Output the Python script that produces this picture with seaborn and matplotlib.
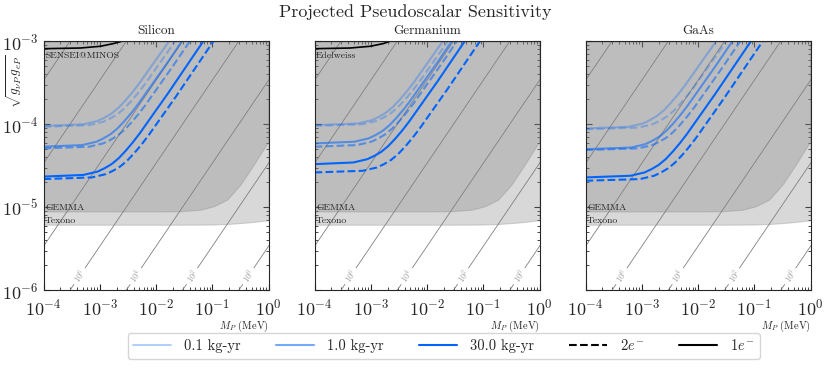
import numpy as np
import matplotlib
matplotlib.use("Agg")
import matplotlib.pyplot as plt
from matplotlib.lines import Line2D
import seaborn as sns

panels = ["Silicon", "Germanium", "GaAs"]
exposures = ["0.1 kg-yr", "1.0 kg-yr", "30.0 kg-yr"]
exposure_alpha = [0.3, 0.55, 1.0]
blue = "#0165fc"

# curves, as log10(M_P / MeV) and log10(coupling), one row per exposure
si_1e_logm = [[-4, -3.29, -3.04, -2.915, -2.79, -2.665, -2.54, -2.415, -2.29, -2.04, -1.79, -0.79],
              [-4, -3.31, -3.06, -2.935, -2.81, -2.685, -2.56, -2.435, -2.31, -2.06, -1.81, -0.81],
              [-4, -3.29, -3.04, -2.915, -2.79, -2.665, -2.54, -2.415, -2.29, -2.04, -1.79, -0.79]]
si_1e_logg = [[-4.02, -4.00, -3.96, -3.92, -3.87, -3.80, -3.71, -3.61, -3.50, -3.26, -3.02, -2.02],
              [-4.27, -4.25, -4.21, -4.17, -4.12, -4.05, -3.96, -3.86, -3.75, -3.51, -3.27, -2.27],
              [-4.63, -4.61, -4.57, -4.53, -4.48, -4.41, -4.32, -4.22, -4.11, -3.87, -3.63, -2.63]]
si_2e_logm = [[-4, -3.19, -2.94, -2.815, -2.69, -2.565, -2.44, -2.315, -2.19, -1.94, -1.69, -0.69],
              [-4, -3.19, -2.94, -2.815, -2.69, -2.565, -2.44, -2.315, -2.19, -1.94, -1.69, -0.69],
              [-4, -3.14, -2.89, -2.765, -2.64, -2.515, -2.39, -2.265, -2.14, -1.89, -1.64, -0.64]]
si_2e_logg = [[-4.03, -4.01, -3.97, -3.93, -3.88, -3.81, -3.72, -3.62, -3.51, -3.27, -3.03, -2.03],
              [-4.29, -4.27, -4.23, -4.19, -4.14, -4.07, -3.98, -3.88, -3.77, -3.53, -3.29, -2.29],
              [-4.66, -4.64, -4.60, -4.56, -4.51, -4.44, -4.35, -4.25, -4.14, -3.90, -3.66, -2.66]]

ge_1e_logm = [[-4, -3.23, -2.98, -2.855, -2.73, -2.605, -2.48, -2.355, -2.23, -1.98, -1.73, -0.73],
              [-4, -3.29, -3.04, -2.915, -2.79, -2.665, -2.54, -2.415, -2.29, -2.04, -1.79, -0.79],
              [-4, -3.31, -3.06, -2.935, -2.81, -2.685, -2.56, -2.435, -2.31, -2.06, -1.81, -0.81]]
ge_1e_logg = [[-4.01, -3.99, -3.95, -3.91, -3.86, -3.79, -3.70, -3.60, -3.49, -3.25, -3.01, -2.01],
              [-4.23, -4.21, -4.17, -4.13, -4.08, -4.01, -3.92, -3.82, -3.71, -3.47, -3.23, -2.23],
              [-4.48, -4.46, -4.42, -4.38, -4.33, -4.26, -4.17, -4.07, -3.96, -3.72, -3.48, -2.48]]
ge_2e_logm = [[-4, -3.15, -2.90, -2.775, -2.65, -2.525, -2.40, -2.275, -2.15, -1.90, -1.65, -0.65],
              [-4, -3.24, -2.99, -2.865, -2.74, -2.615, -2.49, -2.365, -2.24, -1.99, -1.74, -0.74],
              [-4, -3.14, -2.89, -2.765, -2.64, -2.515, -2.39, -2.265, -2.14, -1.89, -1.64, -0.64]]
ge_2e_logg = [[-4.02, -4.00, -3.96, -3.92, -3.87, -3.80, -3.71, -3.61, -3.50, -3.26, -3.02, -2.02],
              [-4.27, -4.25, -4.21, -4.17, -4.12, -4.05, -3.96, -3.86, -3.75, -3.51, -3.27, -2.27],
              [-4.58, -4.56, -4.52, -4.48, -4.43, -4.36, -4.27, -4.17, -4.06, -3.82, -3.58, -2.58]]

gaas_1e_logm = [[-4, -3.23, -2.98, -2.855, -2.73, -2.605, -2.48, -2.355, -2.23, -1.98, -1.73, -0.73],
                [-4, -3.19, -2.94, -2.815, -2.69, -2.565, -2.44, -2.315, -2.19, -1.94, -1.69, -0.69],
                [-4, -3.20, -2.95, -2.825, -2.70, -2.575, -2.45, -2.325, -2.20, -1.95, -1.70, -0.70]]
gaas_1e_logg = [[-4.05, -4.03, -3.99, -3.95, -3.90, -3.83, -3.74, -3.64, -3.53, -3.29, -3.05, -2.05],
                [-4.30, -4.28, -4.24, -4.20, -4.15, -4.08, -3.99, -3.89, -3.78, -3.54, -3.30, -2.30],
                [-4.64, -4.62, -4.58, -4.54, -4.49, -4.42, -4.33, -4.23, -4.12, -3.88, -3.64, -2.64]]
gaas_2e_logm = [[-4, -3.06, -2.81, -2.685, -2.56, -2.435, -2.31, -2.185, -2.06, -1.81, -1.56, -0.56],
                [-4, -3.06, -2.81, -2.685, -2.56, -2.435, -2.31, -2.185, -2.06, -1.81, -1.56, -0.56],
                [-4, -3.03, -2.78, -2.655, -2.53, -2.405, -2.28, -2.155, -2.03, -1.78, -1.53, -0.53]]
gaas_2e_logg = [[-4.06, -4.04, -4.00, -3.96, -3.91, -3.84, -3.75, -3.65, -3.54, -3.30, -3.06, -2.06],
                [-4.31, -4.29, -4.25, -4.21, -4.16, -4.09, -4.00, -3.90, -3.79, -3.55, -3.31, -2.31],
                [-4.68, -4.66, -4.62, -4.58, -4.53, -4.46, -4.37, -4.27, -4.16, -3.92, -3.68, -2.68]]

# existing limits
gemma_logm = [-4, -2.0, -1.57, -1.21, -0.975, -0.737, -0.5, -0.263, -0.114, 0.0]
gemma_logg = [-5.05, -5.05, -5.048, -5.029, -4.988, -4.908, -4.728, -4.487, -4.325, -4.205]
texono_logm = [-4, -1.5, -1.0, -0.7, -0.4, -0.2, 0.0]
texono_logg = [-5.21, -5.21, -5.208, -5.2, -5.185, -5.172, -5.155]
sensei_logm = [-4, -3.35, -2.99, -2.76, -2.61, -2.45]
sensei_logg = [-3.089, -3.081, -3.06, -3.028, -3.0, -2.95]
edelweiss_logm = [-4, -3.37, -3.01, -2.78, -2.66, -2.5]
edelweiss_logg = [-3.089, -3.081, -3.06, -3.028, -3.0, -2.94]

# diagonal reference lines: level = 2 log10(g / M) + offset
contour_offset = 10.94
contour_levels = [0, 2, 4, 6, 8, 10, 12]
labelled_levels = [0, 2, 4, 6]
label_logg = -5.83

sns.set_style("ticks")
plt.rcParams["font.family"] = ["cmr10", "DejaVu Serif"]
plt.rcParams["mathtext.fontset"] = "cm"
plt.rcParams["axes.formatter.use_mathtext"] = True
plt.rcParams["axes.unicode_minus"] = False


def draw_panel(ax, name, logm_1e, logg_1e, logm_2e, logg_2e, limit=None):
    ax.set_xscale("log")
    ax.set_yscale("log")
    ax.set_xlim(1e-4, 1)
    ax.set_ylim(1e-6, 1e-3)

    ax.fill_between(10 ** np.array(texono_logm), 10 ** np.array(texono_logg), 1e-3,
                    color="gray", alpha=0.3, lw=0.8)
    ax.fill_between(10 ** np.array(gemma_logm), 10 ** np.array(gemma_logg), 1e-3,
                    color="gray", alpha=0.3, lw=0.8)

    mm, gg = np.meshgrid(np.logspace(-4.2, 0.2, 300), np.logspace(-6.2, -2.8, 300))
    field = 2 * np.log10(gg / mm) + contour_offset
    cs = ax.contour(mm, gg, field, levels=contour_levels, colors="gray", linewidths=0.6)
    spots = [(10 ** (label_logg - (lev - contour_offset) / 2), 10 ** label_logg) for lev in labelled_levels]
    ax.clabel(cs, levels=labelled_levels, manual=spots, inline=True, inline_spacing=3,
              fontsize=6, colors="0.6", fmt=lambda v: rf"$10^{{{int(round(v))}}}$")

    for i in range(3):
        sns.lineplot(x=10 ** np.array(logm_1e[i]), y=10 ** np.array(logg_1e[i]), ax=ax,
                     color=blue, alpha=exposure_alpha[i], lw=1.5)
        sns.lineplot(x=10 ** np.array(logm_2e[i]), y=10 ** np.array(logg_2e[i]), ax=ax,
                     color=blue, alpha=exposure_alpha[i], lw=1.5, linestyle="--")

    if limit is not None:
        lm, lg, lname = limit
        sns.lineplot(x=10 ** np.array(lm), y=10 ** np.array(lg), ax=ax, color="black", lw=1.2)
        ax.text(1.07e-4, 6.6e-4, lname, fontsize=7, va="center")

    ax.text(1.07e-4, 1.0e-5, "GEMMA", fontsize=7, va="center")
    ax.text(1.07e-4, 6.8e-6, "Texono", fontsize=7, va="center")

    ax.set_title(name, fontsize=9.5, pad=5)
    ax.set_xlabel(r"$M_P$ (MeV)", fontsize=7.5, loc="right", labelpad=0)
    ax.tick_params(which="both", direction="in", top=True, right=True, labelsize=13)
    ax.tick_params(which="major", length=4.5)
    ax.tick_params(which="minor", length=2.5)
    ax.tick_params(axis="x", which="major", pad=5.5)


fig = plt.figure(figsize=(8.31, 3.68), dpi=100)
lefts = [43.5, 314.5, 585.5]
axes = [fig.add_axes([l / 831, 1 - 290.3 / 368, 225 / 831, 249 / 368]) for l in lefts]

draw_panel(axes[0], panels[0], si_1e_logm, si_1e_logg, si_2e_logm, si_2e_logg,
           (sensei_logm, sensei_logg, "SENSEI@MINOS"))
draw_panel(axes[1], panels[1], ge_1e_logm, ge_1e_logg, ge_2e_logm, ge_2e_logg,
           (edelweiss_logm, edelweiss_logg, "Edelweiss"))
draw_panel(axes[2], panels[2], gaas_1e_logm, gaas_1e_logg, gaas_2e_logm, gaas_2e_logg)

axes[0].set_ylabel(r"$\sqrt{g_{\nu P}\, g_{eP}}$", fontsize=9.5)
axes[0].yaxis.set_label_coords(-0.085, 0.84)
for ax in axes[1:]:
    ax.tick_params(labelleft=False)

fig.suptitle("Projected Pseudoscalar Sensitivity", fontsize=13, y=0.99)

handles = [Line2D([], [], color=blue, alpha=a, lw=1.5) for a in exposure_alpha]
handles += [Line2D([], [], color="black", lw=1.5, linestyle="--"),
            Line2D([], [], color="black", lw=1.5)]
labels = exposures + [r"$2e^{-}$", r"$1e^{-}$"]
fig.legend(handles, labels, loc="center", bbox_to_anchor=(0.534, 0.06), ncol=5,
           fontsize=10.5, handlelength=2.6, handletextpad=0.9, columnspacing=2.4)

fig.savefig("out.png", dpi=100)
